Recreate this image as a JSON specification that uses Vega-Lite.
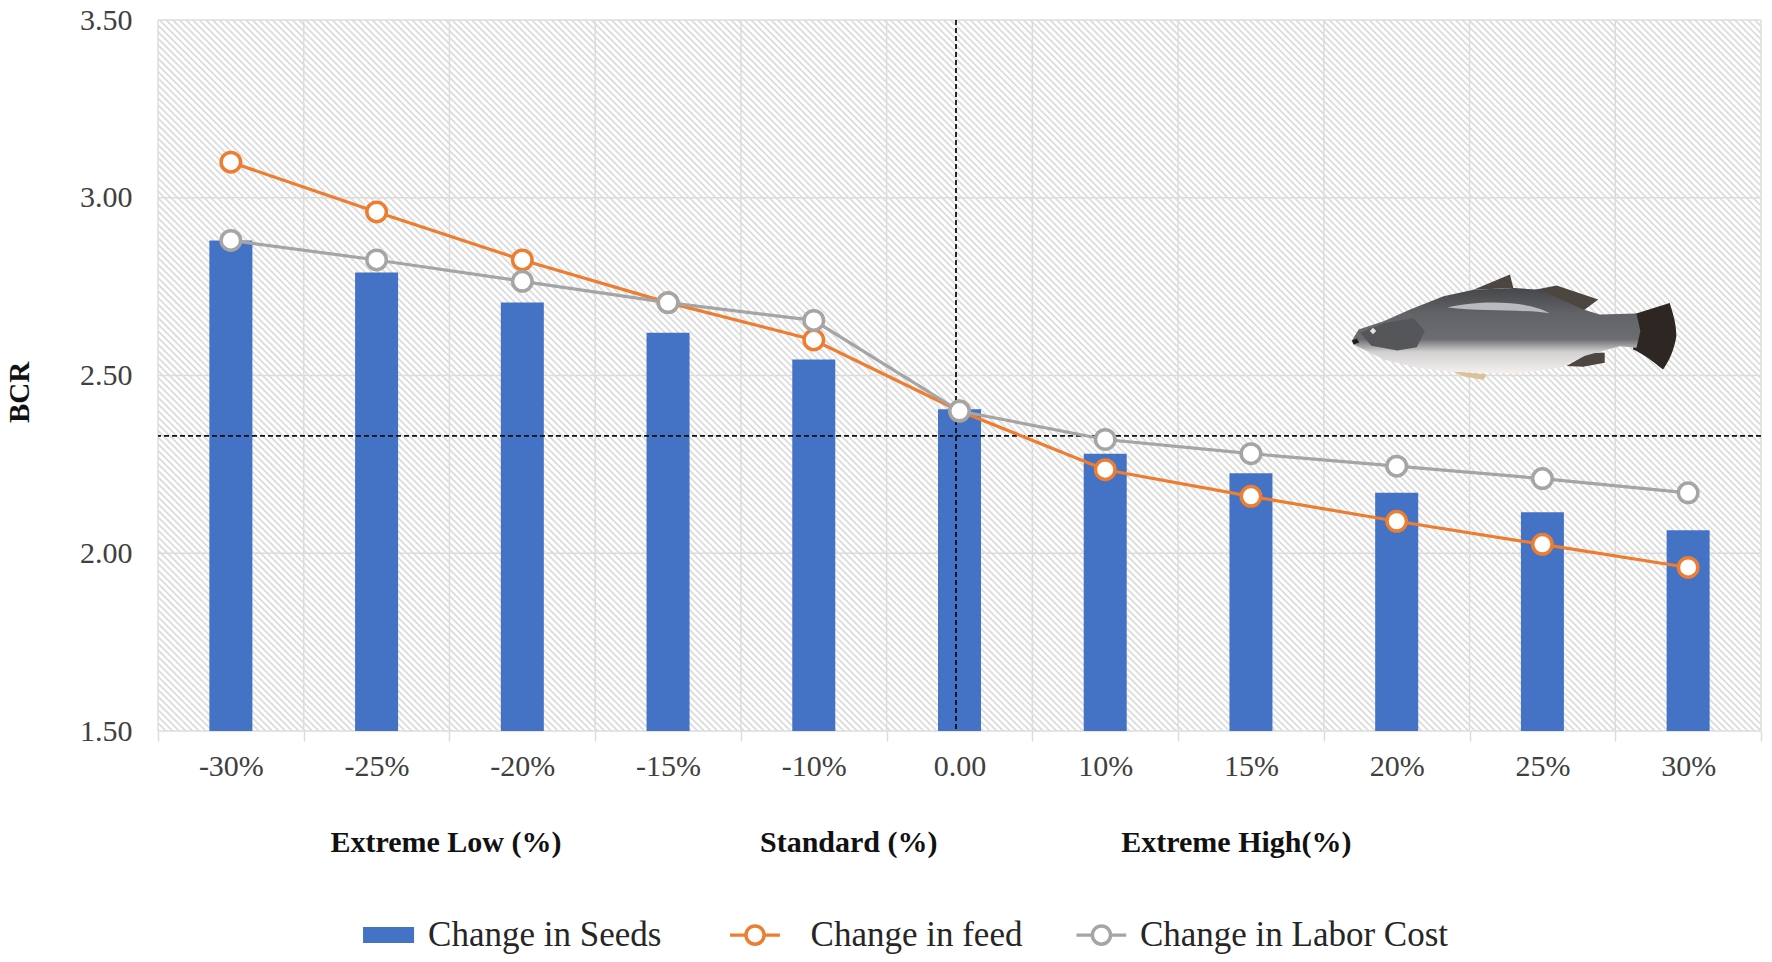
{
  "$schema": "https://vega.github.io/schema/vega-lite/v6.json",
  "width": 1603,
  "height": 711,
  "autosize": "none",
  "padding": {"left": 158, "top": 20, "right": 11, "bottom": 231},
  "background": "white",
  "config": {"view": {"stroke": null}, "font": "Liberation Serif"},
  "data": {"values": [
    {"level": "-30%", "series": "Change in Seeds", "bcr": 2.88},
    {"level": "-25%", "series": "Change in Seeds", "bcr": 2.79},
    {"level": "-20%", "series": "Change in Seeds", "bcr": 2.705},
    {"level": "-15%", "series": "Change in Seeds", "bcr": 2.62},
    {"level": "-10%", "series": "Change in Seeds", "bcr": 2.545},
    {"level": "0.00", "series": "Change in Seeds", "bcr": 2.405},
    {"level": "10%", "series": "Change in Seeds", "bcr": 2.28},
    {"level": "15%", "series": "Change in Seeds", "bcr": 2.225},
    {"level": "20%", "series": "Change in Seeds", "bcr": 2.17},
    {"level": "25%", "series": "Change in Seeds", "bcr": 2.115},
    {"level": "30%", "series": "Change in Seeds", "bcr": 2.065},
    {"level": "-30%", "series": "Change in feed", "bcr": 3.1},
    {"level": "-25%", "series": "Change in feed", "bcr": 2.96},
    {"level": "-20%", "series": "Change in feed", "bcr": 2.825},
    {"level": "-15%", "series": "Change in feed", "bcr": 2.705},
    {"level": "-10%", "series": "Change in feed", "bcr": 2.6},
    {"level": "0.00", "series": "Change in feed", "bcr": 2.4},
    {"level": "10%", "series": "Change in feed", "bcr": 2.235},
    {"level": "15%", "series": "Change in feed", "bcr": 2.16},
    {"level": "20%", "series": "Change in feed", "bcr": 2.09},
    {"level": "25%", "series": "Change in feed", "bcr": 2.025},
    {"level": "30%", "series": "Change in feed", "bcr": 1.96},
    {"level": "-30%", "series": "Change in Labor Cost", "bcr": 2.88},
    {"level": "-25%", "series": "Change in Labor Cost", "bcr": 2.825},
    {"level": "-20%", "series": "Change in Labor Cost", "bcr": 2.765},
    {"level": "-15%", "series": "Change in Labor Cost", "bcr": 2.705},
    {"level": "-10%", "series": "Change in Labor Cost", "bcr": 2.655},
    {"level": "0.00", "series": "Change in Labor Cost", "bcr": 2.4},
    {"level": "10%", "series": "Change in Labor Cost", "bcr": 2.32},
    {"level": "15%", "series": "Change in Labor Cost", "bcr": 2.28},
    {"level": "20%", "series": "Change in Labor Cost", "bcr": 2.245},
    {"level": "25%", "series": "Change in Labor Cost", "bcr": 2.21},
    {"level": "30%", "series": "Change in Labor Cost", "bcr": 2.17}
  ]},
  "resolve": {"scale": {"x": "independent"}},
  "layer": [
    {
      "layer": [
        {
          "data": {"values": [{"part": "hatch"}]},
          "mark": {"type": "rule", "clip": true, "stroke": "#dcdcdc", "strokeWidth": 2400, "strokeDash": [1.8, 2.9]},
          "encoding": {
            "x": {"datum": 0, "type": "quantitative", "scale": {"domain": [0, 11]}, "axis": null},
            "x2": {"datum": 11},
            "y": {"datum": 1.5, "type": "quantitative", "scale": {"domain": [1.5, 3.5]}},
            "y2": {"datum": 6.009}
          }
        },
        {
          "data": {"values": [{"edge": 0}, {"edge": 1}, {"edge": 2}, {"edge": 3}, {"edge": 4}, {"edge": 5}, {"edge": 6}, {"edge": 7}, {"edge": 8}, {"edge": 9}, {"edge": 10}, {"edge": 11}]},
          "mark": {"type": "rule", "stroke": "#dcdcdc", "strokeWidth": 1.5},
          "encoding": {
            "x": {"field": "edge", "type": "quantitative", "scale": {"domain": [0, 11]}, "axis": null}
          }
        },
        {
          "data": {"values": [{"grid": 1.5}, {"grid": 2}, {"grid": 2.5}, {"grid": 3}, {"grid": 3.5}]},
          "mark": {"type": "rule", "stroke": "#dcdcdc", "strokeWidth": 1.5},
          "encoding": {
            "y": {"field": "grid", "type": "quantitative", "scale": {"domain": [1.5, 3.5]}}
          }
        }
      ]
    },
    {
      "layer": [
        {
          "transform": [{"filter": "datum.series == 'Change in Seeds'"}],
          "mark": {"type": "bar", "size": 43, "color": "#4472C4"},
          "encoding": {
            "x": {
              "field": "level", "type": "nominal", "title": null,
              "scale": {"type": "band", "paddingInner": 0, "paddingOuter": 0, "domain": ["-30%", "-25%", "-20%", "-15%", "-10%", "0.00", "10%", "15%", "20%", "25%", "30%"]},
              "axis": {
                "labelAngle": 0, "labelFont": "Liberation Serif", "labelFontSize": 30, "labelColor": "#404040",
                "labelPadding": 10, "tickBand": "extent", "tickColor": "#dcdcdc", "tickWidth": 1.5, "tickSize": 10,
                "domain": false, "grid": false
              }
            },
            "y": {
              "field": "bcr", "type": "quantitative", "title": "BCR",
              "scale": {"domain": [1.5, 3.5]},
              "axis": {
                "values": [1.5, 2, 2.5, 3, 3.5], "format": ".2f", "grid": false, "domain": false, "ticks": false,
                "labelFont": "Liberation Serif", "labelFontSize": 30, "labelColor": "#404040", "labelPadding": 26,
                "titleFont": "Liberation Serif", "titleFontSize": 29, "titleFontWeight": "bold", "titleColor": "#111111",
                "titleX": -124, "titleY": 372
              }
            },
            "y2": {"datum": 1.5}
          }
        },
        {
          "data": {"values": [{"level": "0.00"}]},
          "mark": {"type": "rule", "stroke": "#111111", "strokeWidth": 1.8, "strokeDash": [5, 3], "xOffset": -3.5},
          "encoding": {"x": {"field": "level", "type": "nominal"}}
        },
        {
          "data": {"values": [{"threshold": 2.33}]},
          "mark": {"type": "rule", "stroke": "#111111", "strokeWidth": 1.8, "strokeDash": [5, 3]},
          "encoding": {"y": {"field": "threshold", "type": "quantitative", "scale": {"domain": [1.5, 3.5]}}}
        },
        {
          "transform": [{"filter": "datum.series == 'Change in feed'"}],
          "mark": {"type": "line", "stroke": "#ED7D31", "strokeWidth": 3.2},
          "encoding": {
            "x": {"field": "level", "type": "nominal", "sort": ["-30%", "-25%", "-20%", "-15%", "-10%", "0.00", "10%", "15%", "20%", "25%", "30%"]},
            "y": {"field": "bcr", "type": "quantitative", "scale": {"domain": [1.5, 3.5]}}
          }
        },
        {
          "transform": [{"filter": "datum.series == 'Change in feed'"}],
          "mark": {"type": "point", "shape": "circle", "filled": true, "fill": "white", "stroke": "#ED7D31", "strokeWidth": 3.5, "size": 380, "opacity": 1},
          "encoding": {
            "x": {"field": "level", "type": "nominal"},
            "y": {"field": "bcr", "type": "quantitative", "scale": {"domain": [1.5, 3.5]}}
          }
        },
        {
          "transform": [{"filter": "datum.series == 'Change in Labor Cost'"}],
          "mark": {"type": "line", "stroke": "#A5A5A5", "strokeWidth": 3.2},
          "encoding": {
            "x": {"field": "level", "type": "nominal", "sort": ["-30%", "-25%", "-20%", "-15%", "-10%", "0.00", "10%", "15%", "20%", "25%", "30%"]},
            "y": {"field": "bcr", "type": "quantitative", "scale": {"domain": [1.5, 3.5]}}
          }
        },
        {
          "transform": [{"filter": "datum.series == 'Change in Labor Cost'"}],
          "mark": {"type": "point", "shape": "circle", "filled": true, "fill": "white", "stroke": "#A5A5A5", "strokeWidth": 3.5, "size": 380, "opacity": 1},
          "encoding": {
            "x": {"field": "level", "type": "nominal"},
            "y": {"field": "bcr", "type": "quantitative", "scale": {"domain": [1.5, 3.5]}}
          }
        }
      ]
    },
    {
      "data": {"values": [{"part": "overlay"}]},
      "encoding": {
        "x": {"datum": 9.305, "type": "quantitative", "scale": {"domain": [0, 11]}, "axis": null},
        "y": {"datum": 2.634, "type": "quantitative", "scale": {"domain": [1.5, 3.5]}}
      },
      "layer": [
        {"mark": {"type": "point", "filled": true, "opacity": 1, "size": 105000, "fill": "#4d4540",
          "shape": "M-.25,-.236L-.025,-.329L-.004,-.246ZM.129,-.236L.263,-.261L.52,-.175L.427,-.105ZM.324,.236L.468,.154L.56,.154L.56,.216L.427,.24Z"}},
        {"mark": {"type": "point", "filled": true, "opacity": 1, "size": 105000, "fill": "#2e2622",
          "shape": "M.735,-.082L.961,-.154C.985,-.08 1.002,-.02 1.002,.051C.99,.13 .96,.2 .92,.257C.86,.21 .8,.16 .735,.133Z"}},
        {"mark": {"type": "point", "filled": true, "opacity": 1, "size": 105000, "fill": "#d9c39a",
          "shape": "M-.384,.267L-.168,.287L-.189,.322L-.312,.298Z"}},
        {"mark": {"type": "point", "filled": true, "opacity": 1, "size": 105000,
          "fill": {"gradient": "linear", "x1": 0, "y1": 0, "x2": 0, "y2": 1, "stops": [
            {"offset": 0, "color": "#46474b"}, {"offset": 0.3, "color": "#626367"}, {"offset": 0.6, "color": "#6c6d70"},
            {"offset": 0.75, "color": "#d2d0d0"}, {"offset": 1, "color": "#f3f0ee"}]},
          "shape": "M-1,.078L-.959,.01L-.805,-.041L-.641,-.113L-.435,-.195L-.25,-.236L0,-.246L.16,-.236L.427,-.113L.53,-.082L.756,-.088L.78,.02L.756,.123L.653,.113L.427,.175L.283,.246L.016,.281L-.394,.271L-.6,.246L-.805,.195L-.908,.144L-.99,.103Z"}},
        {"mark": {"type": "point", "filled": true, "opacity": 1, "size": 105000, "fill": "#b9babd",
          "shape": "M-.41,-.125C-.2,-.175 .1,-.165 .22,-.09C.05,-.115 -.2,-.1 -.41,-.125Z"}},
        {"mark": {"type": "point", "filled": true, "opacity": 1, "size": 105000, "fill": "#55565a",
          "shape": "M-.95,.03L-.8,-.03L-.62,-.06L-.55,.02L-.6,.12L-.72,.14L-.88,.11Z"}},
        {"mark": {"type": "point", "filled": true, "opacity": 1, "size": 105000, "fill": "#e6e3df",
          "shape": "M-.89,.02L-.87,.0L-.85,.02L-.87,.04Z"}},
        {"mark": {"type": "point", "filled": true, "opacity": 1, "size": 105000, "fill": "#1f1d1c",
          "shape": "M-1,.078L-.97,.065L-.955,.09L-.99,.103Z"}},
        {
          "data": {"values": [{"group": "Extreme Low (%)"}]},
          "mark": {"type": "text", "font": "Liberation Serif", "fontSize": 30, "fontWeight": "bold", "color": "#111111", "align": "center", "baseline": "middle"},
          "encoding": {"x": {"datum": 1.976, "type": "quantitative"}, "y": {"datum": 1.185, "type": "quantitative"}, "text": {"field": "group"}}
        },
        {
          "data": {"values": [{"group": "Standard (%)"}]},
          "mark": {"type": "text", "font": "Liberation Serif", "fontSize": 30, "fontWeight": "bold", "color": "#111111", "align": "center", "baseline": "middle"},
          "encoding": {"x": {"datum": 4.74, "type": "quantitative"}, "y": {"datum": 1.185, "type": "quantitative"}, "text": {"field": "group"}}
        },
        {
          "data": {"values": [{"group": "Extreme High(%)"}]},
          "mark": {"type": "text", "font": "Liberation Serif", "fontSize": 30, "fontWeight": "bold", "color": "#111111", "align": "center", "baseline": "middle"},
          "encoding": {"x": {"datum": 7.4, "type": "quantitative"}, "y": {"datum": 1.185, "type": "quantitative"}, "text": {"field": "group"}}
        },
        {
          "mark": {"type": "rect", "color": "#4472C4"},
          "encoding": {"x": {"datum": 1.407, "type": "quantitative"}, "x2": {"datum": 1.757}, "y": {"datum": 0.949, "type": "quantitative"}, "y2": {"datum": 0.904}}
        },
        {
          "mark": {"type": "rule", "stroke": "#ED7D31", "strokeWidth": 3.2},
          "encoding": {"x": {"datum": 3.925, "type": "quantitative"}, "x2": {"datum": 4.268}, "y": {"datum": 0.926, "type": "quantitative"}}
        },
        {
          "mark": {"type": "point", "shape": "circle", "filled": true, "fill": "white", "stroke": "#ED7D31", "strokeWidth": 3.5, "size": 330, "opacity": 1},
          "encoding": {"x": {"datum": 4.097, "type": "quantitative"}, "y": {"datum": 0.926, "type": "quantitative"}}
        },
        {
          "mark": {"type": "rule", "stroke": "#A5A5A5", "strokeWidth": 3.2},
          "encoding": {"x": {"datum": 6.303, "type": "quantitative"}, "x2": {"datum": 6.644}, "y": {"datum": 0.926, "type": "quantitative"}}
        },
        {
          "mark": {"type": "point", "shape": "circle", "filled": true, "fill": "white", "stroke": "#A5A5A5", "strokeWidth": 3.5, "size": 330, "opacity": 1},
          "encoding": {"x": {"datum": 6.474, "type": "quantitative"}, "y": {"datum": 0.926, "type": "quantitative"}}
        },
        {
          "data": {"values": [{"series": "Change in Seeds"}]},
          "mark": {"type": "text", "font": "Liberation Serif", "fontSize": 35, "color": "#262626", "align": "left", "baseline": "middle"},
          "encoding": {"x": {"datum": 1.853, "type": "quantitative"}, "y": {"datum": 0.926, "type": "quantitative"}, "text": {"field": "series"}}
        },
        {
          "data": {"values": [{"series": "Change in feed"}]},
          "mark": {"type": "text", "font": "Liberation Serif", "fontSize": 35, "color": "#262626", "align": "left", "baseline": "middle"},
          "encoding": {"x": {"datum": 4.478, "type": "quantitative"}, "y": {"datum": 0.926, "type": "quantitative"}, "text": {"field": "series"}}
        },
        {
          "data": {"values": [{"series": "Change in Labor Cost"}]},
          "mark": {"type": "text", "font": "Liberation Serif", "fontSize": 35, "color": "#262626", "align": "left", "baseline": "middle"},
          "encoding": {"x": {"datum": 6.738, "type": "quantitative"}, "y": {"datum": 0.926, "type": "quantitative"}, "text": {"field": "series"}}
        }
      ]
    }
  ]
}
